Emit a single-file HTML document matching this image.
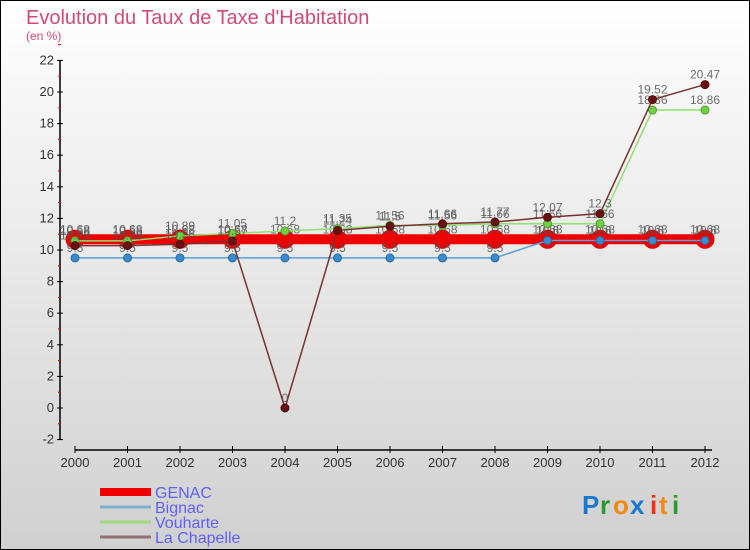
<!DOCTYPE html>
<html><head><meta charset="utf-8"><style>
body{margin:0}
svg{display:block;font-family:"Liberation Sans","DejaVu Sans",sans-serif}
</style></head><body>
<svg id="c" width="750" height="550" viewBox="0 0 750 550">
<defs><linearGradient id="bg" x1="0" y1="0" x2="0" y2="1"><stop offset="0" stop-color="#ffffff"/><stop offset="1" stop-color="#d0d0d0"/></linearGradient></defs>
<rect x="0.5" y="0.5" width="749" height="549" fill="url(#bg)" stroke="#000"/>
<text x="26" y="24" font-size="20" fill="#d04a7a">Evolution du Taux de Taxe d'Habitation</text>
<text x="26" y="40" font-size="12" fill="#d04a7a">(en %)</text>
<g id="axes"></g>
<g id="series"></g>
<g id="legend"></g>
<g font-size="26" font-weight="bold">
<text x="582" y="514" fill="#1a78d0">P</text><text x="600" y="514" fill="#2a9a2a">r</text><text x="613" y="514" fill="#f08a10">o</text><text x="630" y="514" fill="#1a78d0">x</text><text x="650" y="514" fill="#f03010">i</text><text x="659" y="514" fill="#f08a10">t</text><text x="672" y="514" fill="#2a9a2a">i</text>
</g>
</svg>
<script>
const years=[2000,2001,2002,2003,2004,2005,2006,2007,2008,2009,2010,2011,2012];
const genac=[10.68,10.68,10.68,10.68,10.68,10.68,10.68,10.68,10.68,10.68,10.68,10.68,10.68];
const bignac=[9.5,9.5,9.5,9.5,9.5,9.5,9.5,9.5,9.5,10.6,10.6,10.6,10.6];
const vouharte=[10.58,10.58,10.89,11.05,11.2,11.35,11.56,11.56,11.66,11.66,11.66,18.86,18.86];
const lachapelle=[10.28,10.28,10.36,10.57,0,11.24,11.5,11.66,11.77,12.07,12.3,19.52,20.47];
const yTicks=[-2,0,2,4,6,8,10,12,14,16,18,20,22];
const NS="http://www.w3.org/2000/svg";
const X=i=>75+i*52.5;
const Y=v=>408-v*15.8;
function mk(p,t,a){const e=document.createElementNS(NS,t);for(const k in a)e.setAttribute(k,a[k]);p.appendChild(e);return e;}
const ax=document.getElementById('axes');
let e=mk(ax,'line',{x1:60,y1:Y(22),x2:60,y2:Y(-2),stroke:'#000','stroke-width':1.5});


yTicks.forEach(v=>{
 mk(ax,'line',{x1:57,y1:Y(v),x2:63,y2:Y(v),stroke:'#000'});
 mk(ax,'line',{x1:58,y1:Y(v+1),x2:61,y2:Y(v+1),stroke:'#e00'});
 const t=mk(ax,'text',{x:54,y:Y(v)+4,'font-size':13,'text-anchor':'end',fill:'#333'});t.textContent=v;
 
 
});
e=mk(ax,'line',{x1:75,y1:450,x2:712,y2:450,stroke:'#000','stroke-width':1.5});


years.forEach((y,i)=>{
 mk(ax,'line',{x1:X(i),y1:446,x2:X(i),y2:453,stroke:'#000'});
 const t=mk(ax,'text',{x:X(i),y:467,'font-size':13,'text-anchor':'middle',fill:'#333'});t.textContent=y;
 
 
});
const sg=document.getElementById('series');
function series(name,vals,color,w,r,fill,stroke){
 const g=mk(sg,'g',{});
 
 
 mk(g,'polyline',{points:vals.map((v,i)=>X(i)+','+Y(v)).join(' '),fill:'none',stroke:color,'stroke-width':w});
 vals.forEach((v,i)=>{
  const c=mk(g,'circle',{cx:X(i),cy:Y(v),r:r,fill:fill,stroke:stroke,'stroke-width':1});
  
  
  const t=mk(g,'text',{x:X(i),y:Y(v)-6,'font-size':12,'text-anchor':'middle',fill:'#555','fill-opacity':0.85});t.textContent=String(v);
  
  
 });
}
series('genac',genac,'#ee0000',10,9,'#ee0000','#dd0000');
series('bignac',bignac,'#5aa0d8',1.5,4,'#3a8ad0','#2a6aa0');
series('vouharte',vouharte,'#90e070',1.5,4,'#70d040','#50a030');
series('la-chapelle',lachapelle,'#7a3030',1.5,4,'#6a1010','#501010');
const lg=document.getElementById('legend');
[['GENAC','#ee0000',8],['Bignac','#80b0d0',3],['Vouharte','#a0d880',3],['La Chapelle','#907070',3]].forEach((d,i)=>{
 const y=492+i*15;
 const l=mk(lg,'line',{x1:100,y1:y,x2:151,y2:y,stroke:d[1],'stroke-width':d[2]});
 
 
 const t=mk(lg,'text',{x:155,y:y+6,'font-size':16,fill:'#6060ff'});t.textContent=d[0];
 
 
});
</script>
</body></html>
